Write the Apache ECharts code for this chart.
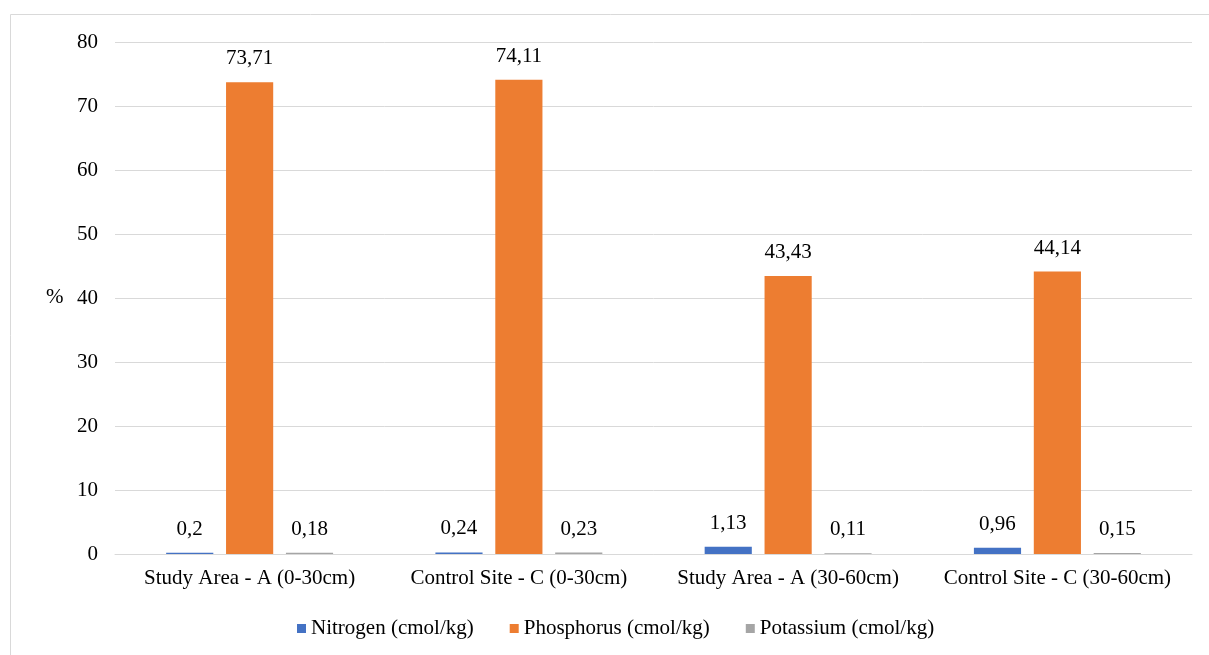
<!DOCTYPE html>
<html>
<head>
<meta charset="utf-8">
<script src="https://cdn.jsdelivr.net/npm/echarts@6/dist/echarts.min.js"></script>
<style>
  html, body { margin: 0; padding: 0; background: #fff; }
  #chart { width: 1209px; height: 655px; }
</style>
</head>
<body>
<div id="chart"></div>
<script>
// Soil nutrient contents by site and depth
const categories = ['Study Area - A (0-30cm)', 'Control Site - C (0-30cm)', 'Study Area - A (30-60cm)', 'Control Site - C (30-60cm)'];
const nitrogen = [0.2, 0.24, 1.13, 0.96];
const phosphorus = [73.71, 74.11, 43.43, 44.14];
const potassium = [0.18, 0.23, 0.11, 0.15];
const seriesNames = ['Nitrogen (cmol/kg)', 'Phosphorus (cmol/kg)', 'Potassium (cmol/kg)'];
const yTicks = [0, 10, 20, 30, 40, 50, 60, 70, 80];

const font = 'Liberation Serif';
const fs = 21;
const fmt = p => String(p.value).replace('.', ',');

function bar(name, data, color) {
  return {
    name, type: 'bar', data,
    barGap: '27%', barCategoryGap: '38%',
    itemStyle: { color },
    label: {
      show: true, position: 'top', distance: 13, formatter: fmt,
      fontFamily: font, fontSize: fs, color: '#000'
    }
  };
}

const chart = echarts.init(document.getElementById('chart'));
chart.setOption({
  animation: false,
  textStyle: { fontFamily: font, fontSize: fs, color: '#000' },
  graphic: [{
    type: 'rect', left: 8, top: 12, silent: true,
    shape: { width: 1400, height: 800 },
    style: { fill: 'none', stroke: '#d9d9d9', lineWidth: 1 }
  }, {
    type: 'text', left: 46, top: 287,
    style: { text: '%', fontFamily: font, fontSize: fs, fill: '#000' }
  }],
  grid: { left: 115, right: 17, top: 42, bottom: 101, containLabel: false },
  legend: {
    bottom: 11, left: 292, itemWidth: 9, itemHeight: 9, itemGap: 36,
    icon: 'rect',
    textStyle: { fontFamily: font, fontSize: fs, color: '#000' },
    data: seriesNames
  },
  xAxis: {
    type: 'category', data: categories,
    axisLine: { lineStyle: { color: '#d9d9d9', width: 1 } },
    axisTick: { show: false },
    axisLabel: { interval: 0, fontFamily: font, fontSize: fs, color: '#000', margin: 14 }
  },
  yAxis: {
    type: 'value', min: yTicks[0], max: yTicks[yTicks.length - 1], interval: 10,
    axisLine: { show: false }, axisTick: { show: false },
    axisLabel: { fontFamily: font, fontSize: fs, color: '#000', margin: 17 },
    splitLine: { lineStyle: { color: '#d9d9d9', width: 1 } }
  },
  series: [
    bar(seriesNames[0], nitrogen, '#4472c4'),
    bar(seriesNames[1], phosphorus, '#ed7d31'),
    bar(seriesNames[2], potassium, '#a5a5a5')
  ]
});
</script>
</body>
</html>
